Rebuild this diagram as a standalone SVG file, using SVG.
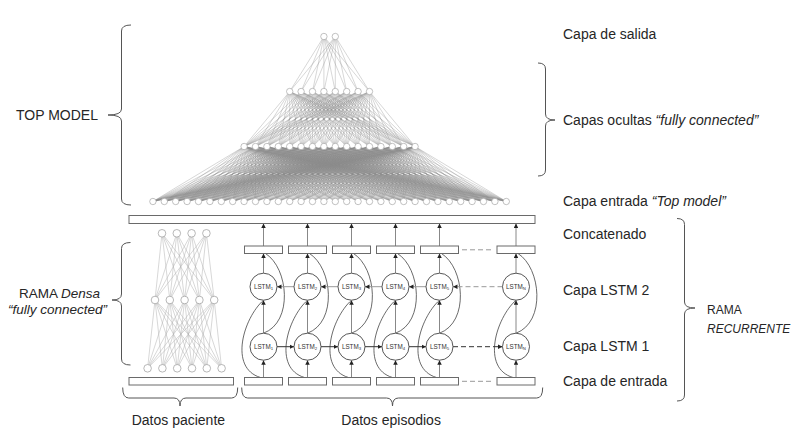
<svg xmlns="http://www.w3.org/2000/svg" width="801" height="443" viewBox="0 0 801 443">
<style>
.t{font-family:"Liberation Sans",Arial,sans-serif;font-size:14px;fill:#262626}
.sm{font-size:12px}
.md{font-size:13.5px}
.it{font-style:italic}
.nd{fill:#fff;stroke:#999;stroke-width:0.6}
.dn{fill:#fff;stroke:#999;stroke-width:0.7}
.dl{fill:none;stroke:#b0b0b0;stroke-width:0.5}
.box{fill:#fff;stroke:#6a6a6a;stroke-width:1}
.lstm{fill:#fff;stroke:#444;stroke-width:0.9}
.lt{font-family:"Liberation Sans",Arial,sans-serif;font-size:6.3px;fill:#333;text-anchor:middle}
.va{fill:none;stroke:#888;stroke-width:1}
.ha{fill:none;stroke:#333;stroke-width:1}
.hg{fill:none;stroke:#999;stroke-width:1}
.dash{stroke-dasharray:5 3}
.sk{fill:none;stroke:#444;stroke-width:0.8}
.br{fill:none;stroke:#555;stroke-width:1}
</style>
<defs>
<marker id="ah" viewBox="0 0 6 6" refX="6" refY="3" markerWidth="4.5" markerHeight="4.5" markerUnits="userSpaceOnUse" orient="auto">
<path d="M0 0L6 3L0 6z" fill="#222"/>
</marker>
<path id="f8" vector-effect="non-scaling-stroke" d="M0 0L-39.9 55M0 0L-28.5 55M0 0L-17.1 55M0 0L-5.7 55M0 0L5.7 55M0 0L17.1 55M0 0L28.5 55M0 0L39.9 55"/>
<path id="f16" vector-effect="non-scaling-stroke" d="M0 0L-85.5 55M0 0L-74.1 55M0 0L-62.7 55M0 0L-51.3 55M0 0L-39.9 55M0 0L-28.5 55M0 0L-17.1 55M0 0L-5.7 55M0 0L5.7 55M0 0L17.1 55M0 0L28.5 55M0 0L39.9 55M0 0L51.3 55M0 0L62.7 55M0 0L74.1 55M0 0L85.5 55"/>
<path id="f32" vector-effect="non-scaling-stroke" d="M0 0L-176.7 55M0 0L-165.3 55M0 0L-153.9 55M0 0L-142.5 55M0 0L-131.1 55M0 0L-119.7 55M0 0L-108.3 55M0 0L-96.9 55M0 0L-85.5 55M0 0L-74.1 55M0 0L-62.7 55M0 0L-51.3 55M0 0L-39.9 55M0 0L-28.5 55M0 0L-17.1 55M0 0L-5.7 55M0 0L5.7 55M0 0L17.1 55M0 0L28.5 55M0 0L39.9 55M0 0L51.3 55M0 0L62.7 55M0 0L74.1 55M0 0L85.5 55M0 0L96.9 55M0 0L108.3 55M0 0L119.7 55M0 0L131.1 55M0 0L142.5 55M0 0L153.9 55M0 0L165.3 55M0 0L176.7 55"/>
</defs>
<rect width="801" height="443" fill="#fff"/>

<g id="connectors">
  <g id="top-mesh" fill="none" stroke="#8a8a8a" stroke-width="0.35">
    <use href="#f8" transform="matrix(1 0 0.10364 1 323.9 36.5)"/>
    <use href="#f8" transform="matrix(1 0 -0.10364 1 335.3 36.5)"/>
    <use href="#f16" transform="matrix(1 0 0.72545 1 289.7 91.5)"/>
    <use href="#f16" transform="matrix(1 0 0.51818 1 301.1 91.5)"/>
    <use href="#f16" transform="matrix(1 0 0.31091 1 312.5 91.5)"/>
    <use href="#f16" transform="matrix(1 0 0.10364 1 323.9 91.5)"/>
    <use href="#f16" transform="matrix(1 0 -0.10364 1 335.3 91.5)"/>
    <use href="#f16" transform="matrix(1 0 -0.31091 1 346.7 91.5)"/>
    <use href="#f16" transform="matrix(1 0 -0.51818 1 358.1 91.5)"/>
    <use href="#f16" transform="matrix(1 0 -0.72545 1 369.5 91.5)"/>
    <use href="#f32" transform="matrix(1 0 1.55455 1 244.1 146.5)"/>
    <use href="#f32" transform="matrix(1 0 1.34727 1 255.5 146.5)"/>
    <use href="#f32" transform="matrix(1 0 1.14 1 266.9 146.5)"/>
    <use href="#f32" transform="matrix(1 0 0.93273 1 278.3 146.5)"/>
    <use href="#f32" transform="matrix(1 0 0.72545 1 289.7 146.5)"/>
    <use href="#f32" transform="matrix(1 0 0.51818 1 301.1 146.5)"/>
    <use href="#f32" transform="matrix(1 0 0.31091 1 312.5 146.5)"/>
    <use href="#f32" transform="matrix(1 0 0.10364 1 323.9 146.5)"/>
    <use href="#f32" transform="matrix(1 0 -0.10364 1 335.3 146.5)"/>
    <use href="#f32" transform="matrix(1 0 -0.31091 1 346.7 146.5)"/>
    <use href="#f32" transform="matrix(1 0 -0.51818 1 358.1 146.5)"/>
    <use href="#f32" transform="matrix(1 0 -0.72545 1 369.5 146.5)"/>
    <use href="#f32" transform="matrix(1 0 -0.93273 1 380.9 146.5)"/>
    <use href="#f32" transform="matrix(1 0 -1.14 1 392.3 146.5)"/>
    <use href="#f32" transform="matrix(1 0 -1.34727 1 403.7 146.5)"/>
    <use href="#f32" transform="matrix(1 0 -1.55455 1 415.1 146.5)"/>
  </g>
  <path id="dense-mesh" class="dl" d="M162 233.3L155 300M162 233.3L169.8 300M162 233.3L184.6 300M162 233.3L199.4 300M162 233.3L214.2 300M176.8 233.3L155 300M176.8 233.3L169.8 300M176.8 233.3L184.6 300M176.8 233.3L199.4 300M176.8 233.3L214.2 300M191.6 233.3L155 300M191.6 233.3L169.8 300M191.6 233.3L184.6 300M191.6 233.3L199.4 300M191.6 233.3L214.2 300M206.4 233.3L155 300M206.4 233.3L169.8 300M206.4 233.3L184.6 300M206.4 233.3L199.4 300M206.4 233.3L214.2 300M155 300L147.6 368.3M155 300L162.4 368.3M155 300L177.2 368.3M155 300L192 368.3M155 300L206.8 368.3M155 300L221.6 368.3M169.8 300L147.6 368.3M169.8 300L162.4 368.3M169.8 300L177.2 368.3M169.8 300L192 368.3M169.8 300L206.8 368.3M169.8 300L221.6 368.3M184.6 300L147.6 368.3M184.6 300L162.4 368.3M184.6 300L177.2 368.3M184.6 300L192 368.3M184.6 300L206.8 368.3M184.6 300L221.6 368.3M199.4 300L147.6 368.3M199.4 300L162.4 368.3M199.4 300L177.2 368.3M199.4 300L192 368.3M199.4 300L206.8 368.3M199.4 300L221.6 368.3M214.2 300L147.6 368.3M214.2 300L162.4 368.3M214.2 300L177.2 368.3M214.2 300L192 368.3M214.2 300L206.8 368.3M214.2 300L221.6 368.3"/>
  <g id="skip-curves" class="sk">
    <path d="M260.5 377.5C228.5 368 243.5 318 263.5 300.2"/>
    <path d="M304.5 377.5C272.5 368 287.5 318 307.5 300.2"/>
    <path d="M348.5 377.5C316.5 368 331.5 318 351.5 300.2"/>
    <path d="M392.5 377.5C360.5 368 375.5 318 395.5 300.2"/>
    <path d="M436.5 377.5C404.5 368 419.5 318 439.5 300.2"/>
    <path d="M513 377.5C481 368 496 318 516 300.2"/>
    <path d="M263.5 333.2C293.5 322 288.5 268 265.5 253.5"/>
    <path d="M307.5 333.2C337.5 322 332.5 268 309.5 253.5"/>
    <path d="M351.5 333.2C381.5 322 376.5 268 353.5 253.5"/>
    <path d="M395.5 333.2C425.5 322 420.5 268 397.5 253.5"/>
    <path d="M439.5 333.2C469.5 322 464.5 268 441.5 253.5"/>
    <path d="M516 333.2C546 322 541 268 518 253.5"/>
  </g>
  <g id="vertical-arrows" class="va">
    <path d="M263.5 377.5V360.2" marker-end="url(#ah)"/><path d="M263.5 333.2V300.2" marker-end="url(#ah)"/><path d="M263.5 273.2V253.5" marker-end="url(#ah)"/><path d="M263.5 246V223.5" marker-end="url(#ah)"/>
    <path d="M307.5 377.5V360.2" marker-end="url(#ah)"/><path d="M307.5 333.2V300.2" marker-end="url(#ah)"/><path d="M307.5 273.2V253.5" marker-end="url(#ah)"/><path d="M307.5 246V223.5" marker-end="url(#ah)"/>
    <path d="M351.5 377.5V360.2" marker-end="url(#ah)"/><path d="M351.5 333.2V300.2" marker-end="url(#ah)"/><path d="M351.5 273.2V253.5" marker-end="url(#ah)"/><path d="M351.5 246V223.5" marker-end="url(#ah)"/>
    <path d="M395.5 377.5V360.2" marker-end="url(#ah)"/><path d="M395.5 333.2V300.2" marker-end="url(#ah)"/><path d="M395.5 273.2V253.5" marker-end="url(#ah)"/><path d="M395.5 246V223.5" marker-end="url(#ah)"/>
    <path d="M439.5 377.5V360.2" marker-end="url(#ah)"/><path d="M439.5 333.2V300.2" marker-end="url(#ah)"/><path d="M439.5 273.2V253.5" marker-end="url(#ah)"/><path d="M439.5 246V223.5" marker-end="url(#ah)"/>
    <path d="M516 377.5V360.2" marker-end="url(#ah)"/><path d="M516 333.2V300.2" marker-end="url(#ah)"/><path d="M516 273.2V253.5" marker-end="url(#ah)"/><path d="M516 246V223.5" marker-end="url(#ah)"/>
  </g>
  <g id="lstm1-arrows" class="ha">
    <path d="M277 346.7H294" marker-end="url(#ah)"/>
    <path d="M321 346.7H338" marker-end="url(#ah)"/>
    <path d="M365 346.7H382" marker-end="url(#ah)"/>
    <path d="M409 346.7H426" marker-end="url(#ah)"/>
    <path class="dash" d="M453 346.7H502.5" marker-end="url(#ah)"/>
  </g>
  <g id="lstm2-arrows" class="hg">
    <path d="M294 286.7H277" marker-end="url(#ah)"/>
    <path d="M338 286.7H321" marker-end="url(#ah)"/>
    <path d="M382 286.7H365" marker-end="url(#ah)"/>
    <path d="M426 286.7H409" marker-end="url(#ah)"/>
    <path class="dash" d="M502.5 286.7H453" marker-end="url(#ah)"/>
  </g>
  <path id="ellipsis-dashes" class="hg dash" d="M462 249.8H493M462 381.3H493"/>
</g>

<g id="top-output-layer">
  <circle class="nd" cx="323.9" cy="36.5" r="3.2"/><circle class="nd" cx="335.3" cy="36.5" r="3.2"/>
</g>
<g id="top-hidden-layer-1">
  <circle class="nd" cx="289.7" cy="91.5" r="3.2"/><circle class="nd" cx="301.1" cy="91.5" r="3.2"/><circle class="nd" cx="312.5" cy="91.5" r="3.2"/><circle class="nd" cx="323.9" cy="91.5" r="3.2"/><circle class="nd" cx="335.3" cy="91.5" r="3.2"/><circle class="nd" cx="346.7" cy="91.5" r="3.2"/><circle class="nd" cx="358.1" cy="91.5" r="3.2"/><circle class="nd" cx="369.5" cy="91.5" r="3.2"/>
</g>
<g id="top-hidden-layer-2">
  <circle class="nd" cx="244.1" cy="146.5" r="3.2"/><circle class="nd" cx="255.5" cy="146.5" r="3.2"/><circle class="nd" cx="266.9" cy="146.5" r="3.2"/><circle class="nd" cx="278.3" cy="146.5" r="3.2"/><circle class="nd" cx="289.7" cy="146.5" r="3.2"/><circle class="nd" cx="301.1" cy="146.5" r="3.2"/><circle class="nd" cx="312.5" cy="146.5" r="3.2"/><circle class="nd" cx="323.9" cy="146.5" r="3.2"/><circle class="nd" cx="335.3" cy="146.5" r="3.2"/><circle class="nd" cx="346.7" cy="146.5" r="3.2"/><circle class="nd" cx="358.1" cy="146.5" r="3.2"/><circle class="nd" cx="369.5" cy="146.5" r="3.2"/><circle class="nd" cx="380.9" cy="146.5" r="3.2"/><circle class="nd" cx="392.3" cy="146.5" r="3.2"/><circle class="nd" cx="403.7" cy="146.5" r="3.2"/><circle class="nd" cx="415.1" cy="146.5" r="3.2"/>
</g>
<g id="top-input-layer">
  <circle class="nd" cx="152.9" cy="201.5" r="3.2"/><circle class="nd" cx="164.3" cy="201.5" r="3.2"/><circle class="nd" cx="175.7" cy="201.5" r="3.2"/><circle class="nd" cx="187.1" cy="201.5" r="3.2"/><circle class="nd" cx="198.5" cy="201.5" r="3.2"/><circle class="nd" cx="209.9" cy="201.5" r="3.2"/><circle class="nd" cx="221.3" cy="201.5" r="3.2"/><circle class="nd" cx="232.7" cy="201.5" r="3.2"/><circle class="nd" cx="244.1" cy="201.5" r="3.2"/><circle class="nd" cx="255.5" cy="201.5" r="3.2"/><circle class="nd" cx="266.9" cy="201.5" r="3.2"/><circle class="nd" cx="278.3" cy="201.5" r="3.2"/><circle class="nd" cx="289.7" cy="201.5" r="3.2"/><circle class="nd" cx="301.1" cy="201.5" r="3.2"/><circle class="nd" cx="312.5" cy="201.5" r="3.2"/><circle class="nd" cx="323.9" cy="201.5" r="3.2"/><circle class="nd" cx="335.3" cy="201.5" r="3.2"/><circle class="nd" cx="346.7" cy="201.5" r="3.2"/><circle class="nd" cx="358.1" cy="201.5" r="3.2"/><circle class="nd" cx="369.5" cy="201.5" r="3.2"/><circle class="nd" cx="380.9" cy="201.5" r="3.2"/><circle class="nd" cx="392.3" cy="201.5" r="3.2"/><circle class="nd" cx="403.7" cy="201.5" r="3.2"/><circle class="nd" cx="415.1" cy="201.5" r="3.2"/><circle class="nd" cx="426.5" cy="201.5" r="3.2"/><circle class="nd" cx="437.9" cy="201.5" r="3.2"/><circle class="nd" cx="449.3" cy="201.5" r="3.2"/><circle class="nd" cx="460.7" cy="201.5" r="3.2"/><circle class="nd" cx="472.1" cy="201.5" r="3.2"/><circle class="nd" cx="483.5" cy="201.5" r="3.2"/><circle class="nd" cx="494.9" cy="201.5" r="3.2"/><circle class="nd" cx="506.3" cy="201.5" r="3.2"/>
</g>

<g id="top-input-bar"><rect class="box" x="129" y="215.5" width="406" height="8"/></g>

<g id="dense-layer-3">
  <circle class="dn" cx="162" cy="233.3" r="3.8"/><circle class="dn" cx="176.8" cy="233.3" r="3.8"/><circle class="dn" cx="191.6" cy="233.3" r="3.8"/><circle class="dn" cx="206.4" cy="233.3" r="3.8"/>
</g>
<g id="dense-layer-2">
  <circle class="dn" cx="155" cy="300" r="3.8"/><circle class="dn" cx="169.8" cy="300" r="3.8"/><circle class="dn" cx="184.6" cy="300" r="3.8"/><circle class="dn" cx="199.4" cy="300" r="3.8"/><circle class="dn" cx="214.2" cy="300" r="3.8"/>
</g>
<g id="dense-layer-1">
  <circle class="dn" cx="147.6" cy="368.3" r="3.8"/><circle class="dn" cx="162.4" cy="368.3" r="3.8"/><circle class="dn" cx="177.2" cy="368.3" r="3.8"/><circle class="dn" cx="192" cy="368.3" r="3.8"/><circle class="dn" cx="206.8" cy="368.3" r="3.8"/><circle class="dn" cx="221.6" cy="368.3" r="3.8"/>
</g>
<g id="patient-input"><rect class="box" x="129" y="377.5" width="104.5" height="7.5"/></g>

<g id="concat-boxes">
  <rect class="box" x="244.5" y="246" width="38" height="7.5"/>
  <rect class="box" x="288.5" y="246" width="38" height="7.5"/>
  <rect class="box" x="332.5" y="246" width="38" height="7.5"/>
  <rect class="box" x="376.5" y="246" width="38" height="7.5"/>
  <rect class="box" x="420.5" y="246" width="38" height="7.5"/>
  <rect class="box" x="497" y="246" width="38" height="7.5"/>
</g>
<g id="episode-inputs">
  <rect class="box" x="244.5" y="377.5" width="38" height="7.5"/>
  <rect class="box" x="288.5" y="377.5" width="38" height="7.5"/>
  <rect class="box" x="332.5" y="377.5" width="38" height="7.5"/>
  <rect class="box" x="376.5" y="377.5" width="38" height="7.5"/>
  <rect class="box" x="420.5" y="377.5" width="38" height="7.5"/>
  <rect class="box" x="497" y="377.5" width="38" height="7.5"/>
</g>

<g id="lstm2-1"><circle class="lstm" cx="263.5" cy="286.7" r="13.5"/><text class="lt" x="263.5" y="288.8">LSTM<tspan font-size="4.3" dy="1.4">1</tspan></text></g>
<g id="lstm2-2"><circle class="lstm" cx="307.5" cy="286.7" r="13.5"/><text class="lt" x="307.5" y="288.8">LSTM<tspan font-size="4.3" dy="1.4">2</tspan></text></g>
<g id="lstm2-3"><circle class="lstm" cx="351.5" cy="286.7" r="13.5"/><text class="lt" x="351.5" y="288.8">LSTM<tspan font-size="4.3" dy="1.4">3</tspan></text></g>
<g id="lstm2-4"><circle class="lstm" cx="395.5" cy="286.7" r="13.5"/><text class="lt" x="395.5" y="288.8">LSTM<tspan font-size="4.3" dy="1.4">4</tspan></text></g>
<g id="lstm2-5"><circle class="lstm" cx="439.5" cy="286.7" r="13.5"/><text class="lt" x="439.5" y="288.8">LSTM<tspan font-size="4.3" dy="1.4">5</tspan></text></g>
<g id="lstm2-n"><circle class="lstm" cx="516" cy="286.7" r="13.5"/><text class="lt" x="516" y="288.8">LSTM<tspan font-size="4.3" dy="1.4">N</tspan></text></g>
<g id="lstm1-1"><circle class="lstm" cx="263.5" cy="346.7" r="13.5"/><text class="lt" x="263.5" y="348.8">LSTM<tspan font-size="4.3" dy="1.4">1</tspan></text></g>
<g id="lstm1-2"><circle class="lstm" cx="307.5" cy="346.7" r="13.5"/><text class="lt" x="307.5" y="348.8">LSTM<tspan font-size="4.3" dy="1.4">2</tspan></text></g>
<g id="lstm1-3"><circle class="lstm" cx="351.5" cy="346.7" r="13.5"/><text class="lt" x="351.5" y="348.8">LSTM<tspan font-size="4.3" dy="1.4">3</tspan></text></g>
<g id="lstm1-4"><circle class="lstm" cx="395.5" cy="346.7" r="13.5"/><text class="lt" x="395.5" y="348.8">LSTM<tspan font-size="4.3" dy="1.4">4</tspan></text></g>
<g id="lstm1-5"><circle class="lstm" cx="439.5" cy="346.7" r="13.5"/><text class="lt" x="439.5" y="348.8">LSTM<tspan font-size="4.3" dy="1.4">5</tspan></text></g>
<g id="lstm1-n"><circle class="lstm" cx="516" cy="346.7" r="13.5"/><text class="lt" x="516" y="348.8">LSTM<tspan font-size="4.3" dy="1.4">N</tspan></text></g>

<g id="braces" class="br">
  <path d="M131 25Q121.5 25 121.5 31L121.5 109Q121.5 115 108 115M108 115Q121.5 115 121.5 121L121.5 199Q121.5 205 131 205"/>
  <path d="M130.5 242.5Q121.5 242.5 121.5 248.5L121.5 294Q121.5 300 112 300M112 300Q121.5 300 121.5 306L121.5 359Q121.5 365 130.5 365"/>
  <path d="M538 63Q545.5 63 545.5 69L545.5 114Q545.5 120 555 120M555 120Q545.5 120 545.5 126L545.5 170Q545.5 176 538 176"/>
  <path d="M677 218.5Q684.5 218.5 684.5 224.5L684.5 302Q684.5 308 695 308M695 308Q684.5 308 684.5 314L684.5 395Q684.5 401 677 401"/>
  <path d="M122.7 387.5Q122.7 398 128.7 398L174 398Q180 398 180 406M180 406Q180 398 186 398L231.7 398Q237.7 398 237.7 387.5"/>
  <path d="M241.7 387.5Q241.7 398 247.7 398L386.5 398Q392.5 398 392.5 406M392.5 406Q392.5 398 398.5 398L536.7 398Q542.7 398 542.7 387.5"/>
</g>

<g id="labels">
  <text class="t" x="16" y="120">TOP MODEL</text>
  <text class="t" x="563" y="38.5">Capa de salida</text>
  <text class="t" x="563" y="125">Capas ocultas <tspan class="it">“fully connected”</tspan></text>
  <text class="t" x="563" y="206">Capa entrada <tspan class="it">“Top model”</tspan></text>
  <text class="t" x="563" y="238.5">Concatenado</text>
  <text class="t" x="563" y="295">Capa LSTM 2</text>
  <text class="t" x="563" y="350.5">Capa LSTM 1</text>
  <text class="t" x="563" y="385.5">Capa de entrada</text>
  <text class="t sm" x="707" y="314">RAMA</text>
  <text class="t sm it" x="707" y="332.5">RECURRENTE</text>
  <text class="t md" x="19" y="298">RAMA <tspan class="it">Densa</tspan></text>
  <text class="t md it" x="8" y="313.8">“fully connected”</text>
  <text class="t" x="131.7" y="425">Datos paciente</text>
  <text class="t" x="341.3" y="425">Datos episodios</text>
</g>
</svg>
